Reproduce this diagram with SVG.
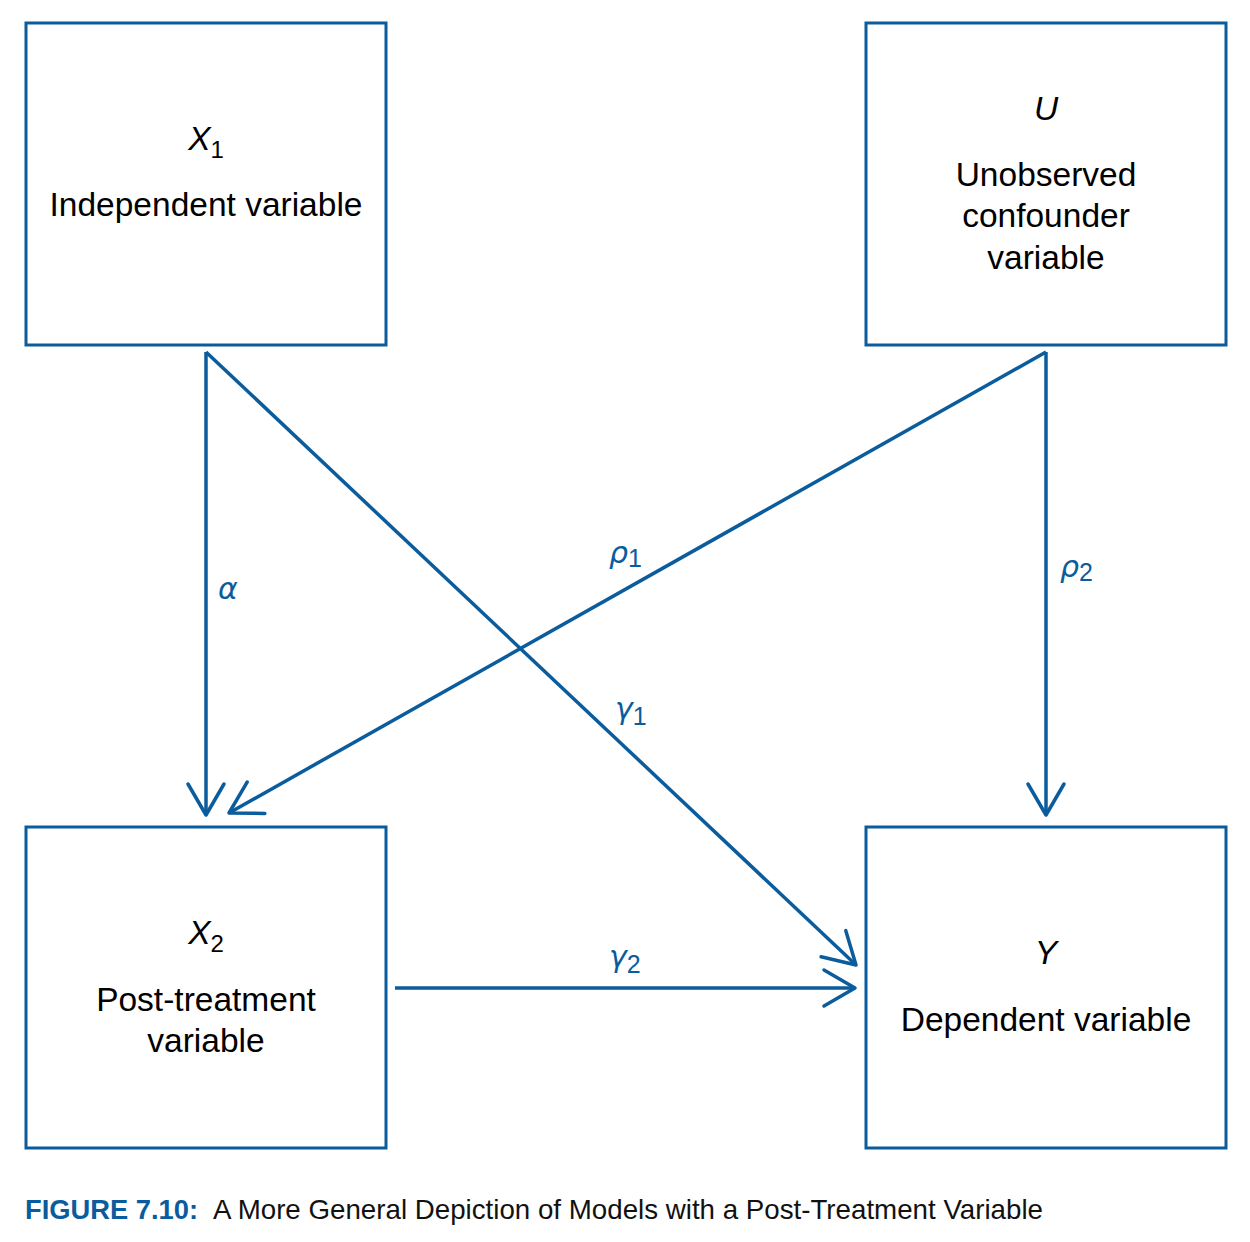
<svg xmlns="http://www.w3.org/2000/svg" width="1250" height="1242" viewBox="0 0 1250 1242">
<style>
.box{fill:#fff;stroke:#0b5c9c;stroke-width:3}
.edge{fill:none;stroke:#0b5c9c;stroke-width:3.5}
.t{font-family:"Liberation Sans",Arial,sans-serif;font-size:33.5px;fill:#000;text-anchor:middle}
.v{font-style:italic}
.lbl{font-family:"DejaVu Sans","Liberation Sans",sans-serif;font-style:italic;font-size:30px;fill:#0b5c9c}
.sub{font-family:"Liberation Sans",Arial,sans-serif;font-style:normal;font-size:25px}
.cap{font-family:"Liberation Sans",Arial,sans-serif;font-size:28px}
</style>
<defs>
<marker id="arr" markerUnits="userSpaceOnUse" viewBox="-40 -25 50 50" refX="0" refY="0" markerWidth="50" markerHeight="50" orient="auto" overflow="visible">
<path d="M-31,-18 L0,0 L-31,18" fill="none" stroke="#0b5c9c" stroke-width="3.5" stroke-linecap="round" stroke-linejoin="round"/>
</marker>
</defs>
<rect width="1250" height="1242" fill="#fff"/>
<g id="connectors">
<line class="edge" x1="206" y1="352" x2="206" y2="815" marker-end="url(#arr)"/>
<line class="edge" x1="206" y1="352" x2="856" y2="965" marker-end="url(#arr)"/>
<line class="edge" x1="1046" y1="352" x2="229" y2="813" marker-end="url(#arr)"/>
<line class="edge" x1="1046" y1="352" x2="1046" y2="815" marker-end="url(#arr)"/>
<line class="edge" x1="395" y1="988" x2="855" y2="988" marker-end="url(#arr)"/>
<text class="lbl" x="218" y="599">α</text>
<text class="lbl" x="609" y="563">ρ<tspan class="sub" dy="4">1</tspan></text>
<text class="lbl" x="1060" y="577">ρ<tspan class="sub" dy="4">2</tspan></text>
<text class="lbl" x="615" y="719">γ<tspan class="sub" dy="6">1</tspan></text>
<text class="lbl" x="609" y="967">γ<tspan class="sub" dy="6">2</tspan></text>
</g>
<g id="node-x1">
<rect class="box" x="26" y="23" width="360" height="322"/>
<text class="t" x="206" y="150"><tspan class="v">X</tspan><tspan font-size="24" dy="8">1</tspan></text>
<text class="t" x="206" y="216">Independent variable</text>
</g>
<g id="node-u">
<rect class="box" x="866" y="23" width="360" height="322"/>
<text class="t v" x="1046" y="120">U</text>
<text class="t" x="1046" y="186">Unobserved</text>
<text class="t" x="1046" y="227">confounder</text>
<text class="t" x="1046" y="269">variable</text>
</g>
<g id="node-x2">
<rect class="box" x="26" y="827" width="360" height="321"/>
<text class="t" x="206" y="944"><tspan class="v">X</tspan><tspan font-size="24" dy="8">2</tspan></text>
<text class="t" x="206" y="1011">Post-treatment</text>
<text class="t" x="206" y="1052">variable</text>
</g>
<g id="node-y">
<rect class="box" x="866" y="827" width="360" height="321"/>
<text class="t v" x="1046" y="964">Y</text>
<text class="t" x="1046" y="1031">Dependent variable</text>
</g>
<g id="caption">
<text class="cap" x="25" y="1219" font-weight="bold" fill="#0b5c9c" textLength="173" lengthAdjust="spacingAndGlyphs">FIGURE 7.10:</text>
<text class="cap" x="213" y="1219" fill="#111" textLength="830" lengthAdjust="spacingAndGlyphs">A More General Depiction of Models with a Post-Treatment Variable</text>
</g>
</svg>
